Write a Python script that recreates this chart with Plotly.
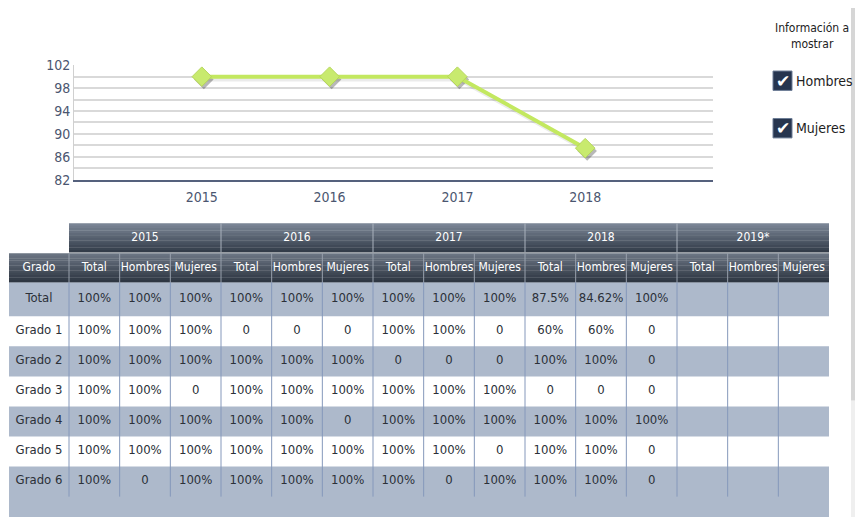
import plotly.graph_objects as go

# ---------------- data ----------------
years = ["2015", "2016", "2017", "2018"]
line_values = [100, 100, 100, 87.5]
y_ticks = [82, 84, 86, 88, 90, 92, 94, 96, 98, 100, 102]

table_years = ["2015", "2016", "2017", "2018", "2019*"]
sub_cols = ["Total", "Hombres", "Mujeres"]
row_labels = ["Total", "Grado 1", "Grado 2", "Grado 3", "Grado 4", "Grado 5", "Grado 6"]
table_values = [
    ["100%", "100%", "100%", "100%", "100%", "100%", "100%", "100%", "100%", "87.5%", "84.62%", "100%", "", "", ""],
    ["100%", "100%", "100%", "0", "0", "0", "100%", "100%", "0", "60%", "60%", "0", "", "", ""],
    ["100%", "100%", "100%", "100%", "100%", "100%", "0", "0", "0", "100%", "100%", "0", "", "", ""],
    ["100%", "100%", "0", "100%", "100%", "100%", "100%", "100%", "100%", "0", "0", "0", "", "", ""],
    ["100%", "100%", "100%", "100%", "100%", "0", "100%", "100%", "100%", "100%", "100%", "100%", "", "", ""],
    ["100%", "100%", "100%", "100%", "100%", "100%", "100%", "100%", "0", "100%", "100%", "0", "", "", ""],
    ["100%", "0", "100%", "100%", "100%", "100%", "100%", "0", "100%", "100%", "100%", "0", "", "", ""],
]
legend_title = "Información a<br>mostrar"
legend_items = ["Hombres", "Mujeres"]

# ---------------- layout constants ----------------
W, H = 860, 525
FONT = "DejaVu Sans Condensed, Liberation Sans, sans-serif"
TXT = "#2b3038"
plot_l, plot_r, plot_t, plot_b = 74, 713, 59, 177

tab_l, grado_r, tab_r = 9, 69, 829
col_w = (tab_r - grado_r) / 15
yh_t, yh_b = 222, 252
sh_t, sh_b = 253, 283
row_tops = [283, 318, 349, 380, 411, 442, 473]
row_bots = [318, 349, 380, 411, 442, 473, 504]
band = "#adb9cb"

fig = go.Figure()

# axes carrier (draws nothing; gives the visible axes their categories)
fig.add_trace(go.Scatter(x=years, y=line_values, mode="none", xaxis="x", yaxis="y",
                         hoverinfo="skip", showlegend=False))
# soft shadow of the line (same data, axes offset by a few pixels)
fig.add_trace(go.Scatter(
    x=years, y=line_values, mode="lines+markers",
    line=dict(color="rgba(0,0,0,0.08)", width=4),
    marker=dict(symbol="diamond", size=15, color="rgba(0,0,0,0.28)"),
    xaxis="x3", yaxis="y3", hoverinfo="skip", showlegend=False))
# the line itself
fig.add_trace(go.Scatter(
    x=years, y=line_values, mode="lines+markers",
    line=dict(color="#c3e860", width=4),
    marker=dict(symbol="diamond", size=15, color="#c8ea6e",
                line=dict(color="#b5d65a", width=1)),
    xaxis="x4", yaxis="y4", hoverinfo="skip", showlegend=False))

shapes = []

def rect(x0, y0, x1, y1, color, line=None):
    shapes.append(dict(type="rect", xref="x2", yref="y2", x0=x0, y0=y0, x1=x1, y1=y1,
                       fillcolor=color, line=dict(width=0) if line is None else line,
                       layer="below"))

def vline(x, y0, y1, color, w=1):
    shapes.append(dict(type="line", xref="x2", yref="y2", x0=x, x1=x, y0=y0, y1=y1,
                       line=dict(color=color, width=w), layer="below"))

def hexmix(c1, c2, t):
    a = [int(c1[i:i + 2], 16) for i in (1, 3, 5)]
    b = [int(c2[i:i + 2], 16) for i in (1, 3, 5)]
    return "#%02x%02x%02x" % tuple(round(a[k] + (b[k] - a[k]) * t) for k in range(3))

def gradient(x0, y0, x1, y1, top, bot, n=12):
    h = (y1 - y0) / n
    for i in range(n):
        rect(x0, y0 + i * h, x1, y0 + (i + 1) * h + 0.3, hexmix(top, bot, i / (n - 1)))

# header bands
gradient(grado_r, yh_t, tab_r, yh_b, "#7a8595", "#333c49")
gradient(tab_l, sh_t, tab_r, sh_b, "#6a7482", "#2e3642")
for g in range(1, 5):
    vline(grado_r + g * 3 * col_w, yh_t, yh_b, "#aab2bd")
for c in range(0, 15):
    vline(grado_r + c * col_w, sh_t, sh_b, "#98a1ad")

# body bands
for r in range(len(row_labels)):
    if r % 2 == 0:
        y1 = row_bots[r] if r < len(row_labels) - 1 else H
        rect(tab_l, row_tops[r], tab_r, y1, band)
for c in range(0, 15):
    vline(grado_r + c * col_w, row_tops[0], row_bots[-1], "#8598bb")

# scrollbar-ish edge
rect(851, 0, 855, 405, "#d6d6d6")
rect(851, 405, 855, H, "#efefef")

# header texts
hx, hy, ht = [], [], []
for g, yr in enumerate(table_years):
    hx.append(grado_r + (g * 3 + 1.5) * col_w); hy.append((yh_t + yh_b) / 2); ht.append(yr)
hx.append((tab_l + grado_r) / 2); hy.append((sh_t + sh_b) / 2); ht.append("Grado")
for g in range(len(table_years)):
    for k, s in enumerate(sub_cols):
        hx.append(grado_r + (g * 3 + k + 0.5) * col_w); hy.append((sh_t + sh_b) / 2); ht.append(s)
fig.add_trace(go.Scatter(x=hx, y=hy, text=ht, mode="text", xaxis="x2", yaxis="y2",
                         textfont=dict(family=FONT, size=12, color="white"),
                         hoverinfo="skip", showlegend=False))

# body texts
bx, by, bt = [], [], []
for r, lab in enumerate(row_labels):
    cy = (row_tops[r] + row_bots[r]) / 2 - 1
    bx.append((tab_l + grado_r) / 2); by.append(cy); bt.append(lab)
    for c, v in enumerate(table_values[r]):
        if v:
            bx.append(grado_r + (c + 0.5) * col_w); by.append(cy); bt.append(v)
fig.add_trace(go.Scatter(x=bx, y=by, text=bt, mode="text", xaxis="x2", yaxis="y2",
                         textfont=dict(family=FONT, size=13, color=TXT),
                         hoverinfo="skip", showlegend=False))

# legend (checkbox panel)
annotations = [dict(xref="x2", yref="y2", x=812, y=29, text=legend_title, showarrow=False,
                    font=dict(family=FONT, size=12, color="#222222"), align="center")]
for i, item in enumerate(legend_items):
    cy = 75 + i * 49
    rect(773, cy - 10, 792, cy + 10, "#26354f", line=dict(color="#6d7d96", width=1))
    annotations.append(dict(xref="x2", yref="y2", x=782.5, y=cy, text="<b>✔</b>", showarrow=False,
                            font=dict(family="DejaVu Sans", size=17, color="white")))
    annotations.append(dict(xref="x2", yref="y2", x=794, y=cy, text=item, showarrow=False,
                            xanchor="left", font=dict(family=FONT, size=14, color="#1e1e1e")))

fx = dict(fixedrange=True)
dom_x = [plot_l / W, plot_r / W]
dom_y = [1 - plot_b / H, 1 - plot_t / H]
fig.update_layout(
    width=W, height=H, margin=dict(l=0, r=0, t=0, b=0),
    paper_bgcolor="white", plot_bgcolor="rgba(0,0,0,0)",
    shapes=shapes, annotations=annotations,
    xaxis=dict(domain=dom_x, type="category", range=[-1, 4],
               showgrid=False, zeroline=False, showline=True, linecolor="#55617d", linewidth=1.5,
               ticks="", ticklabelstandoff=4,
               tickfont=dict(family=FONT, size=14, color="#4b5670"), **fx),
    yaxis=dict(domain=dom_y, range=[82, 102],
               tickvals=y_ticks,
               ticktext=[str(v) if (v - 82) % 4 == 0 else "" for v in y_ticks],
               showgrid=True, gridcolor="#d9d9d9", gridwidth=1.5, zeroline=False,
               showline=True, linecolor="#d0d0d0", linewidth=1, ticks="",
               tickfont=dict(family=FONT, size=14, color="#4b5670"), **fx),
    xaxis2=dict(domain=[0, 1], range=[0, W], visible=False, anchor="y2", **fx),
    yaxis2=dict(domain=[0, 1], range=[H, 0], visible=False, anchor="x2", **fx),
    xaxis3=dict(domain=[(plot_l + 2) / W, (plot_r + 2) / W], type="category", range=[-1, 4],
                visible=False, anchor="y3", **fx),
    yaxis3=dict(domain=[1 - (plot_b + 3) / H, 1 - (plot_t + 3) / H], range=[82, 102],
                visible=False, anchor="x3", **fx),
    xaxis4=dict(domain=dom_x, type="category", range=[-1, 4], visible=False, anchor="y4", **fx),
    yaxis4=dict(domain=dom_y, range=[82, 102], visible=False, anchor="x4", **fx),
)

fig.write_html("out.html", config={"displayModeBar": False},
               post_script="document.body.style.margin='0';document.body.style.overflow='hidden';")
